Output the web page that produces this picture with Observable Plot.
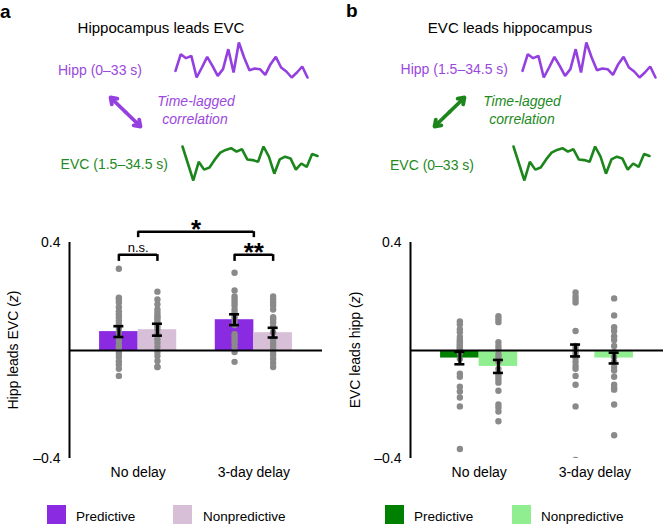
<!DOCTYPE html>
<html><head><meta charset="utf-8">
<script src="https://cdn.jsdelivr.net/npm/d3@7"></script>
<script src="https://cdn.jsdelivr.net/npm/@observablehq/plot@0.6"></script>
<style>
body{margin:0;background:#fff;}
#fig{position:relative;width:663px;height:524px;overflow:hidden;font-family:"Liberation Sans",Arial,Helvetica,sans-serif;color:#000;background:#fff;}
#fig > *{position:absolute;}
.t{white-space:nowrap;line-height:1;}
</style></head><body><div id="fig"></div>
<script>
const FONT = '"Liberation Sans", Arial, Helvetica, sans-serif';
const groups = ["No delay", "3-day delay"];
const conditions = ["Predictive", "Nonpredictive"];

// Panel a: hippocampus leads EVC (order: No delay-Pred, No delay-Nonpred, 3-day-Pred, 3-day-Nonpred)
const aMeans = [0.070, 0.077, 0.114, 0.066];
const aSem = [0.020, 0.022, 0.020, 0.018];
const aNoDelayPred = [0.303, 0.196, 0.19, 0.178, 0.16, 0.145, 0.134, 0.123, 0.11, 0.097, 0.083, 0.068, 0.05, 0.035, 0.02, 0.01, -0.002, -0.013, -0.024, -0.04, -0.053, -0.068, -0.094];
const aNoDelayNon = [0.218, 0.189, 0.171, 0.152, 0.141, 0.13, 0.123, 0.116, 0.105, 0.09, 0.079, 0.06, 0.042, 0.028, 0.013, -0.006, -0.02, -0.039, -0.061, -0.061];
const aDelayPred = [0.288, 0.222, 0.2, 0.189, 0.178, 0.167, 0.152, 0.141, 0.123, 0.108, 0.094, 0.06, 0.05, 0.039, 0.028, 0.013, -0.006, -0.042];
const aDelayNon = [0.2, 0.189, 0.178, 0.167, 0.152, 0.123, 0.116, 0.105, 0.09, 0.068, 0.042, 0.028, 0.017, 0.006, -0.006, -0.017, -0.031, -0.046, -0.061];

// Panel b: EVC leads hippocampus
const bMeans = [-0.028, -0.059, 0.000, -0.028];
const bSem = [0.023, 0.024, 0.022, 0.020];
const bNoDelayPred = [0.108, 0.097, 0.079, 0.068, 0.05, 0.04, 0.035, 0.03, 0.024, 0.02, 0.017, 0.01, 0.009, 0.002, 0.0, -0.009, -0.031, -0.086, -0.097, -0.134, -0.152, -0.174, -0.207, -0.365];
const bNoDelayNon = [0.127, 0.116, 0.105, 0.031, 0.017, 0.006, -0.013, -0.024, -0.042, -0.068, -0.086, -0.097, -0.108, -0.119, -0.149, -0.2, -0.211, -0.226, -0.262];
const bDelayPred = [0.215, 0.2, 0.189, 0.178, 0.072, 0.017, 0.006, -0.002, -0.013, -0.028, -0.042, -0.057, -0.068, -0.094, -0.127, -0.207, -0.405];
const bDelayNon = [0.193, 0.13, 0.086, 0.072, 0.053, 0.039, 0.017, -0.006, -0.024, -0.042, -0.061, -0.074, -0.097, -0.127, -0.138, -0.145, -0.2, -0.314];

// Schematic time series (arbitrary units)
const hippSeries = [3.0, 8.0, 6.8, 7.5, 1.0, 4.0, 7.2, 4.5, 1.5, 3.5, 9.5, 2.5, 11.5, 7.0, 3.2, 3.7, 3.5, 1.8, 5.0, 7.2, 4.0, 2.8, 1.0, 2.5, 4.3, 1.0];
const evcSeries = [11, 6, 1, 6.5, 4.2, 4.8, 7.2, 9.2, 10, 10.5, 9.5, 10.2, 7.2, 7, 6.5, 11, 8, 3, 7.2, 8, 7.5, 4.2, 6, 5, 8.8, 8.2];

// Significance annotations (panel a)
const sigBrackets = [
  {x1: 1, x2: 4, y: 0.44, drop: 0.418},
  {x1: 0.5, x2: 1.5, y: 0.355, drop: 0.33},
  {x1: 3.5, x2: 4.5, y: 0.355, drop: 0.33}
];
const sigStars = [{x: 2.5, y: 0.47, label: "*"}, {x: 4, y: 0.385, label: "**"}];
const sigNs = [{x: 1, y: 0.382, label: "n.s."}];

const purple = "#8a2be2", thistle = "#d8bfd8", green = "#008000", lightGreen = "#90ee90";
const purpleLine = "#9440e0", purpleText = "#9a48de", greenLine = "#1c861c", greenText = "#238a23";

const fig = document.getElementById("fig");
function put(el, left, top) { el.style.left = left + "px"; el.style.top = top + "px"; fig.appendChild(el); return el; }
function txt(s, x, y, o = {}) {
  const d = document.createElement("div");
  d.className = "t";
  d.innerHTML = s;
  d.style.fontSize = (o.size || 14) + "px";
  if (o.color) d.style.color = o.color;
  if (o.italic) d.style.fontStyle = "italic";
  if (o.bold) d.style.fontWeight = "bold";
  const a = o.anchor || "c";
  const tx = a === "c" ? "-50%" : a === "r" ? "-100%" : "0";
  d.style.transform = `translate(${tx},-50%)` + (o.rotate ? ` rotate(${o.rotate}deg)` : "");
  return put(d, x, y);
}
function spark(values, color, left, top, width, height) {
  const svg = Plot.plot({
    width, height, margin: 2,
    style: "overflow: visible; background: transparent;",
    x: {axis: null}, y: {axis: null},
    marks: [Plot.lineY(values, {stroke: color, strokeWidth: 2.6, strokeLinejoin: "miter"})]
  });
  return put(svg, left, top);
}
function arrow(ends, color, left, top) {
  const c = {x: 0.5, y: 0.5};
  const segs = ends.map(([x, y]) => ({x1: c.x, y1: c.y, x2: x, y2: y}));
  const svg = Plot.plot({
    width: 40, height: 39, margin: 5,
    style: "overflow: visible; background: transparent;",
    x: {domain: [0, 1], axis: null}, y: {domain: [0, 1], axis: null},
    marks: [Plot.arrow(segs, {x1: "x1", y1: "y1", x2: "x2", y2: "y2", stroke: color, strokeWidth: 3.8, headLength: 11, headAngle: 70})]
  });
  return put(svg, left, top);
}
function barPanel(means, sems, dotSets, colors, withSig, left) {
  const bars = means.map((m, i) => {
    const g = Math.floor(i / 2), c = i % 2;
    return {group: groups[g], cond: conditions[c], mean: m, sem: sems[i], x1: g * 3 + c, x2: g * 3 + c + 1, xc: g * 3 + c + 0.5};
  });
  const pts = dotSets.flatMap((arr, i) => arr.map(v => ({xc: bars[i].xc, v})));
  const xmin = -0.78;
  const marks = [
    Plot.rect(bars, {x1: "x1", x2: "x2", y1: 0, y2: "mean", fill: d => colors[d.cond]}),
    Plot.dot(pts, {x: "xc", y: "v", r: 3.2, fill: "#8a8a8a", clip: true}),
    Plot.ruleY([0], {strokeWidth: 2}),
    Plot.ruleX([xmin], {y1: -0.4, y2: 0.4, strokeWidth: 2}),
    Plot.ruleX(bars, {x: "xc", y1: d => d.mean - d.sem, y2: d => d.mean + d.sem, strokeWidth: 3}),
    Plot.ruleY(bars, {y: d => d.mean - d.sem, x1: d => d.xc - 0.13, x2: d => d.xc + 0.13, strokeWidth: 2.6}),
    Plot.ruleY(bars, {y: d => d.mean + d.sem, x1: d => d.xc - 0.13, x2: d => d.xc + 0.13, strokeWidth: 2.6})
  ];
  if (withSig) {
    marks.push(
      Plot.ruleY(sigBrackets, {y: "y", x1: "x1", x2: "x2", strokeWidth: 2.5}),
      Plot.ruleX(sigBrackets, {x: "x1", y1: "drop", y2: "y", strokeWidth: 2.5}),
      Plot.ruleX(sigBrackets, {x: "x2", y1: "drop", y2: "y", strokeWidth: 2.5}),
      Plot.text(sigStars, {x: "x", y: "y", text: "label", fontSize: 26, fontWeight: "bold", dy: 6}),
      Plot.text(sigNs, {x: "x", y: "y", text: "label", fontSize: 13})
    );
  }
  const svg = Plot.plot({
    width: 322, height: 300, marginLeft: 69, marginRight: 0, marginTop: 42, marginBottom: 42,
    style: `font-family: ${FONT}; font-size: 14px; color: #000; overflow: visible; background: transparent;`,
    color: {type: "identity"},
    x: {domain: [xmin, 5.78], ticks: [1, 4], tickFormat: d => groups[Math.round((d - 1) / 3)], tickSize: 0, tickPadding: 9, label: null},
    y: {domain: [-0.4, 0.4], ticks: [-0.4, 0.4], tickSize: 0, tickPadding: 9, tickFormat: d => (d < 0 ? "\u2013" : "") + Math.abs(d), label: null},
    marks
  });
  return put(svg, left, 200);
}

// ---- Panel a ----
txt("a", 0, 11, {size: 19, bold: true, anchor: "l"});
txt("Hippocampus leads EVC", 161, 27, {size: 15});
txt("Hipp (0\u201333 s)", 142, 70, {anchor: "r", color: purpleText});
spark(hippSeries, purpleLine, 173, 40, 136, 39);
arrow([[0, 1], [1, 0]], purpleLine, 105, 92);
txt("Time-lagged", 196, 101, {italic: true, color: purpleText});
txt("correlation", 195, 119, {italic: true, color: purpleText});
txt("EVC (1.5\u201334.5 s)", 168, 164, {anchor: "r", color: greenText});
spark(evcSeries, greenLine, 180, 144, 139, 38);

barPanel(aMeans, aSem, [aNoDelayPred, aNoDelayNon, aDelayPred, aDelayNon], {Predictive: purple, Nonpredictive: thistle}, true, 0);
txt("Hipp leads EVC (<i>z</i>)", 13, 350, {rotate: -90});

// ---- Panel b ----
txt("b", 346, 10, {size: 19, bold: true, anchor: "l"});
txt("EVC leads hippocampus", 510, 27, {size: 15});
txt("Hipp (1.5\u201334.5 s)", 508, 69, {anchor: "r", color: purpleText});
spark(hippSeries, purpleLine, 520, 40, 137, 39);
arrow([[1, 1], [0, 0]], greenLine, 429, 92);
txt("Time-lagged", 522, 101, {italic: true, color: greenText});
txt("correlation", 522, 119, {italic: true, color: greenText});
txt("EVC (0\u201333 s)", 474, 165, {anchor: "r", color: greenText});
spark(evcSeries, greenLine, 511, 144, 140, 38);

barPanel(bMeans, bSem, [bNoDelayPred, bNoDelayNon, bDelayPred, bDelayNon], {Predictive: green, Nonpredictive: lightGreen}, false, 341);
txt("EVC leads hipp (<i>z</i>)", 355, 350, {rotate: -90});

// ---- Legends ----
function swatch(color, left) {
  const s = document.createElement("div");
  s.style.width = "19px"; s.style.height = "19px"; s.style.background = color;
  return put(s, left, 505);
}
swatch(purple, 47); txt("Predictive", 76, 517, {anchor: "l", size: 13.5});
swatch(thistle, 173); txt("Nonpredictive", 203, 517, {anchor: "l", size: 13.5});
swatch(green, 385); txt("Predictive", 414, 517, {anchor: "l", size: 13.5});
swatch(lightGreen, 512); txt("Nonpredictive", 541, 517, {anchor: "l", size: 13.5});
</script></body></html>
